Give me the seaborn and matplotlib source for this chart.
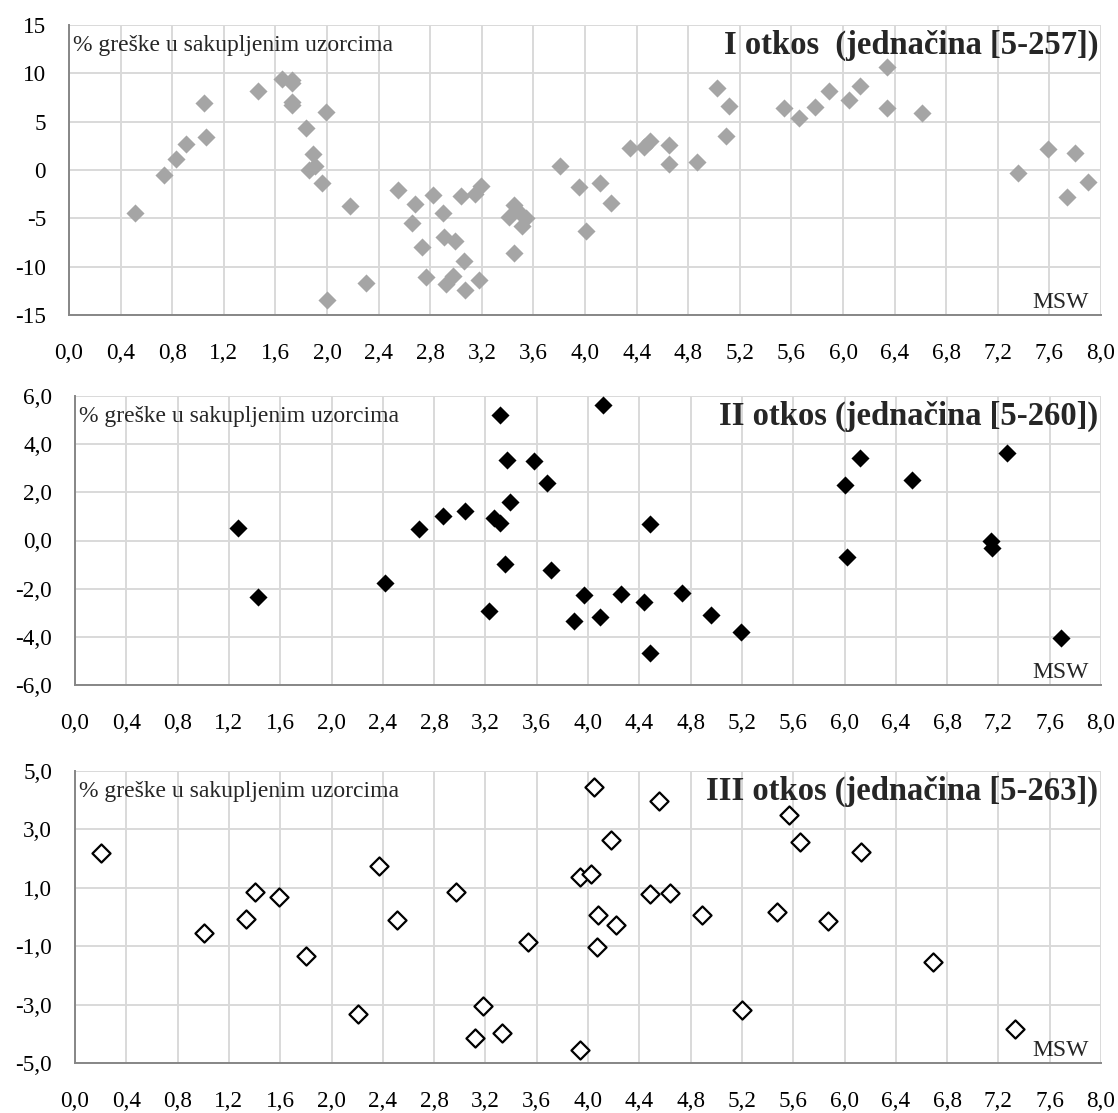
import numpy as np
import pandas as pd
import matplotlib
matplotlib.use("Agg")
import matplotlib.pyplot as plt
from matplotlib.ticker import MultipleLocator, FixedLocator, FuncFormatter
import seaborn as sns

sns.set_style("white")
plt.rcParams["font.family"] = ["Liberation Serif", "DejaVu Serif"]
plt.rcParams["axes.unicode_minus"] = False

# ============================================================
# DATA
# ============================================================
p1_x = [0.515, 0.734, 0.83, 0.906, 1.044, 1.064, 1.468, 1.654, 1.728, 1.73, 1.726, 1.726,
        1.834, 1.89, 1.86, 1.91, 1.96, 1.99, 2.0, 2.18, 2.30, 2.55, 2.66, 2.68, 2.74,
        2.77, 2.82, 2.90, 2.91, 2.92, 2.98, 2.99, 3.06, 3.07, 3.04, 3.15, 3.18, 3.19,
        3.41, 3.45, 3.45, 3.50, 3.51, 3.54, 3.81, 3.95, 4.01, 4.12, 4.20, 4.35, 4.46,
        4.50, 4.65, 4.65, 4.87, 5.02, 5.12, 5.09, 5.54, 5.66, 5.78, 5.89, 6.05, 6.13,
        6.34, 6.34, 6.61, 7.36, 7.59, 7.74, 7.80, 7.90]
p1_y = [-4.5, -0.53, 1.13, 2.64, 6.93, 3.37, 8.17, 9.45, 9.34, 9.0, 7.03, 6.69,
        4.3, 1.68, -0.05, 0.4, -1.33, 6.0, -13.5, -3.74, -11.7, -2.12, -5.5, -3.5, -7.92,
        -11.1, -2.57, -4.47, -6.89, -11.75, -11.0, -7.37, -9.4, -12.4, -2.65, -2.5, -11.37, -1.7,
        -4.88, -3.57, -8.6, -4.6, -5.8, -4.95, 0.41, -1.73, -6.3, -1.31, -3.45, 2.24, 2.35,
        3.0, 2.6, 0.62, 0.86, 8.53, 6.6, 3.56, 6.42, 5.42, 6.56, 8.22, 7.25, 8.7,
        10.7, 6.42, 5.94, -0.28, 2.21, -2.76, 1.8, -1.28]

p2_x = [1.273, 1.426, 2.42, 2.68, 2.87, 3.04, 3.23, 3.27, 3.31, 3.31, 3.37, 3.35,
        3.39, 3.58, 3.68, 3.71, 4.12, 3.89, 3.97, 4.09, 4.26, 4.44, 4.48, 4.48,
        4.73, 4.96, 5.19, 6.0, 6.12, 6.02, 6.53, 7.14, 7.15, 7.27, 7.69]
p2_y = [0.51, -2.34, -1.77, 0.46, 1.0, 1.23, -2.92, 0.93, 0.73, 5.23, 3.33, -0.97,
        1.59, 3.32, 2.38, -1.24, 5.62, -3.33, -2.27, -3.19, -2.21, -2.56, 0.69, -4.69,
        -2.17, -3.08, -3.82, 2.3, 3.42, -0.68, 2.53, -0.03, -0.3, 3.62, -4.04]

p3_x = [0.203, 1.006, 1.334, 1.40, 1.59, 1.805, 2.21, 2.37, 2.51, 2.97, 3.12, 3.18,
        3.33, 3.53, 4.05, 4.55, 5.57, 4.18, 5.65, 6.13, 3.94, 4.02, 4.48, 4.64,
        4.08, 4.22, 4.89, 5.47, 5.87, 4.07, 6.69, 5.20, 7.33, 3.94]
p3_y = [2.18, -0.54, -0.08, 0.86, 0.68, -1.33, -3.31, 1.73, -0.10, 0.84, -4.15, -3.06,
        -3.98, -0.86, 4.46, 3.96, 3.51, 2.62, 2.56, 2.22, 1.37, 1.48, 0.78, 0.83,
        0.08, -0.26, 0.08, 0.17, -0.12, -1.04, -1.53, -3.18, -3.83, -4.57]

p1_yticks = [-15, -10, -5, 0, 5, 10, 15]
p2_yticks = [-6, -4, -2, 0, 2, 4, 6]
p3_yticks = [-5, -3, -1, 1, 3, 5]

titles = ["I otkos  (jednačina [5-257])",
          "II otkos (jednačina [5-260])",
          "III otkos (jednačina [5-263])"]
ylabel_txt = "% greške u sakupljenim uzorcima"
xlabel_txt = "MSW"

# ============================================================
# FIGURE
# ============================================================
W, H = 1118, 1113
PX = 72 / 100  # pixels -> points
fig = plt.figure(figsize=(W / 100, H / 100), dpi=100)

def box(left, right, top, bottom):
    return [left / W, 1 - bottom / H, (right - left) / W, (bottom - top) / H]

comma1 = lambda v, p: f"{v:.1f}".replace(".", ",")

panels = [
    dict(x=p1_x, y=p1_y, rect=box(69, 1101, 25, 315), yticks=p1_yticks, minor=False,
         fmt=lambda v, p: f"{v:.0f}", face="#A5A5A5", edge="#A5A5A5", lw=0),
    dict(x=p2_x, y=p2_y, rect=box(75, 1101, 396, 685), yticks=p2_yticks, minor=True,
         fmt=comma1, face="black", edge="black", lw=0),
    dict(x=p3_x, y=p3_y, rect=box(75, 1101, 771, 1063), yticks=p3_yticks, minor=True,
         fmt=comma1, face="white", edge="black", lw=1.6),
]

grid_c = "#D9D9D9"
axis_c = "#868686"

for i, pn in enumerate(panels):
    ax = fig.add_axes(pn["rect"])
    df = pd.DataFrame({"MSW": pn["x"], "err": pn["y"]})
    sns.scatterplot(data=df, x="MSW", y="err", ax=ax, marker="D", s=85,
                    color=pn["face"], edgecolor=pn["edge"], linewidth=pn["lw"], zorder=3)

    yt = pn["yticks"]
    ax.set_xlim(0, 8)
    ax.set_ylim(yt[0], yt[-1])
    ax.xaxis.set_major_locator(MultipleLocator(0.4))
    ax.yaxis.set_major_locator(FixedLocator(yt))
    if pn["minor"]:
        ax.yaxis.set_minor_locator(MultipleLocator(1))
    ax.xaxis.set_major_formatter(FuncFormatter(comma1))
    ax.yaxis.set_major_formatter(FuncFormatter(pn["fmt"]))

    ax.grid(True, which="major", color=grid_c, linewidth=1.4, zorder=0)
    ax.set_axisbelow(True)
    for s in ["top", "right"]:
        ax.spines[s].set_visible(False)
    for s in ["left", "bottom"]:
        ax.spines[s].set_color(axis_c)
        ax.spines[s].set_linewidth(1.4)
    ax.tick_params(axis="both", which="both", direction="out", color=axis_c,
                   width=1.2, labelsize=16.7, labelcolor="black")
    ax.tick_params(axis="x", which="major", length=7 * PX, pad=21 * PX)
    ax.tick_params(axis="y", which="major", length=7 * PX, pad=16 * PX)
    ax.tick_params(axis="y", which="minor", length=5 * PX)
    ax.set_xlabel("")
    ax.set_ylabel("")

    ax.annotate(ylabel_txt, xy=(0, 1), xycoords="axes fraction",
                xytext=(4 * PX, -26 * PX), textcoords="offset points",
                ha="left", va="baseline", fontsize=17)
    ax.annotate(titles[i], xy=(1, 1), xycoords="axes fraction",
                xytext=(-3 * PX, -29 * PX), textcoords="offset points",
                ha="right", va="baseline", fontsize=23.5, fontweight="bold")
    ax.annotate(xlabel_txt, xy=(1, 0), xycoords="axes fraction",
                xytext=(-12 * PX, 7 * PX), textcoords="offset points",
                ha="right", va="baseline", fontsize=17)

fig.savefig("out.png", dpi=100)
